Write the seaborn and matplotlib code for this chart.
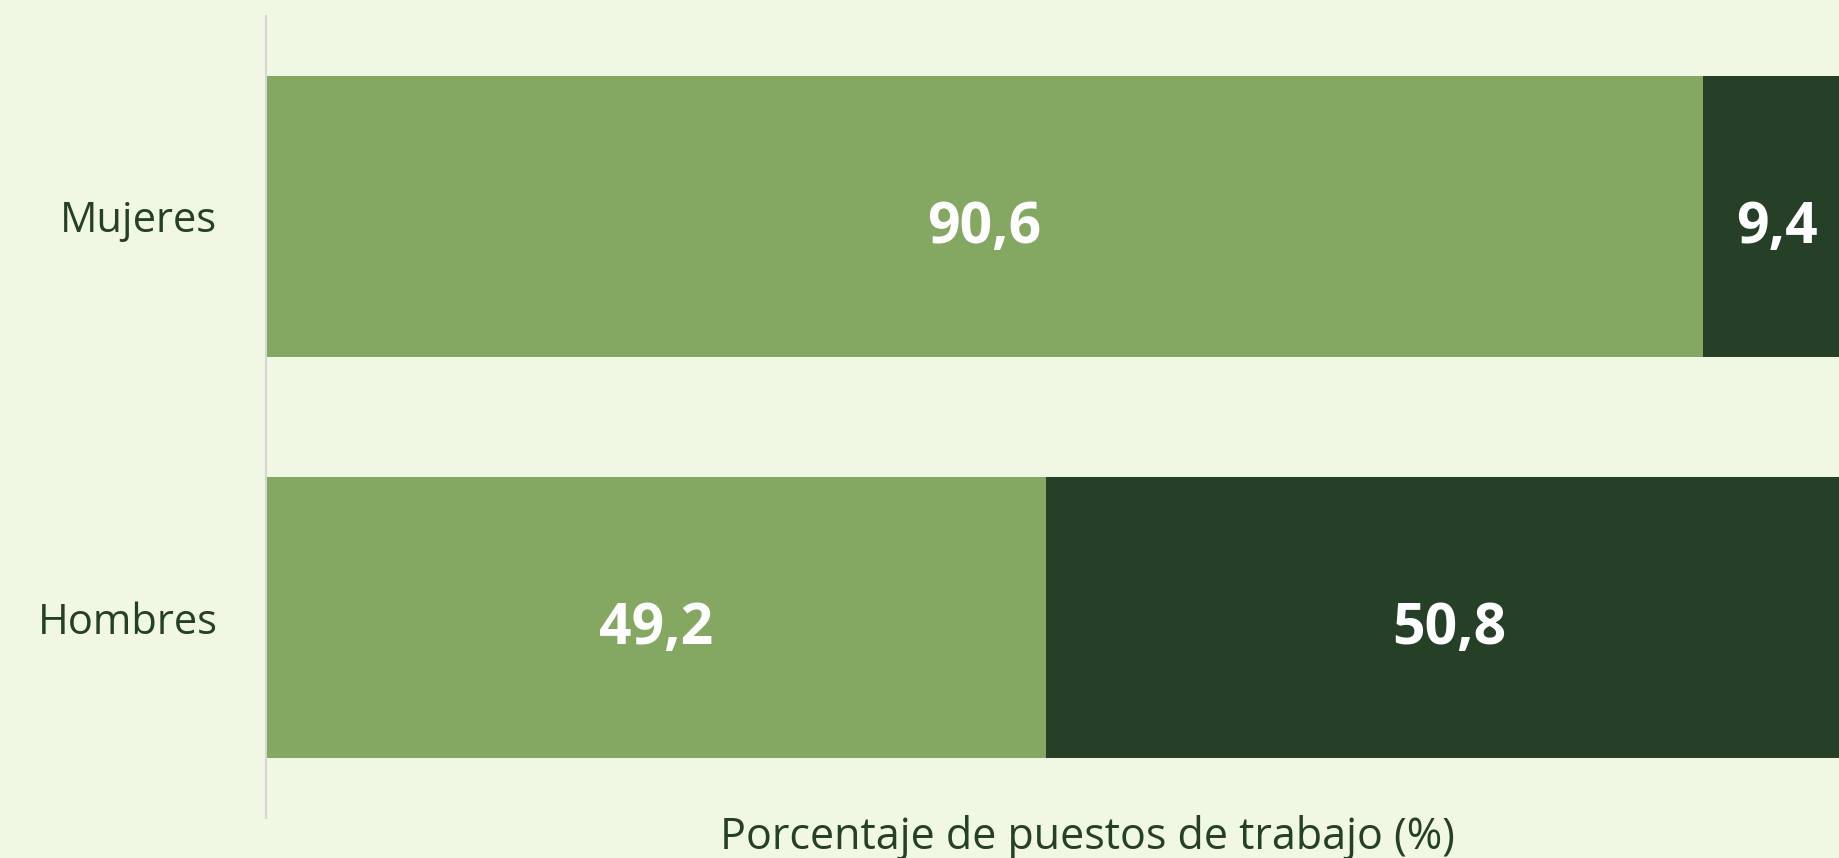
import pandas as pd
import matplotlib.pyplot as plt
import seaborn as sns

CATEGORIES = ['Mujeres', 'Hombres']
SHARE_LIGHT = [90.6, 49.2]
SHARE_DARK = [9.4, 50.8]
X_LABEL = 'Porcentaje de puestos de trabajo (%)'

BG = '#F0F8E4'
LIGHT = '#84A862'
DARK = '#264027'
TEXT = '#264027'


def fmt(v):
    return f'{v:.1f}'.replace('.', ',')


def main():
    df = pd.DataFrame({'grupo': CATEGORIES, 'light': SHARE_LIGHT, 'dark': SHARE_DARK})
    df['total'] = df['light'] + df['dark']

    sns.set_theme(style='white')
    plt.rcParams['font.family'] = ['Open Sans', 'DejaVu Sans']

    fig = plt.figure(figsize=(18.39, 8.58), dpi=100, facecolor=BG)
    ax = fig.add_axes([266 / 1839, 1 - 818 / 858, 1 - 266 / 1839, 802 / 858])
    ax.set_facecolor(BG)

    sns.barplot(data=df, y='grupo', x='total', color=DARK, width=0.7,
                orient='h', saturation=1, ax=ax)
    sns.barplot(data=df, y='grupo', x='light', color=LIGHT, width=0.7,
                orient='h', saturation=1, ax=ax)
    for p in ax.patches:
        p.set_linewidth(0)

    # value labels, baseline a bit under the bar centre
    for i, row in df.iterrows():
        ax.text(row['light'] / 2, i + 0.066, fmt(row['light']), ha='center',
                va='baseline', color='white', fontsize=41, fontweight='bold')
        ax.text(row['light'] + row['dark'] / 2, i + 0.066, fmt(row['dark']),
                ha='center', va='baseline', color='white', fontsize=41,
                fontweight='bold')

    # the chart clips the bars slightly before 100
    ax.set_xlim(0, 99.2)
    ax.set_ylim(1.5, -0.5)
    ax.set_xticks([])
    ax.set_xlabel('')
    ax.set_ylabel('')
    ax.tick_params(axis='y', length=0, pad=35, labelsize=30, labelcolor=TEXT)
    for s in ['top', 'right', 'bottom']:
        ax.spines[s].set_visible(False)
    ax.spines['left'].set_color('#d6d6d6')
    ax.spines['left'].set_linewidth(1.5)

    fig.text(1087 / 1839, 1 - 838 / 858, X_LABEL, ha='center', va='center',
             fontsize=31, color=TEXT)

    fig.savefig('out.png', facecolor=BG)


if __name__ == '__main__':
    main()
